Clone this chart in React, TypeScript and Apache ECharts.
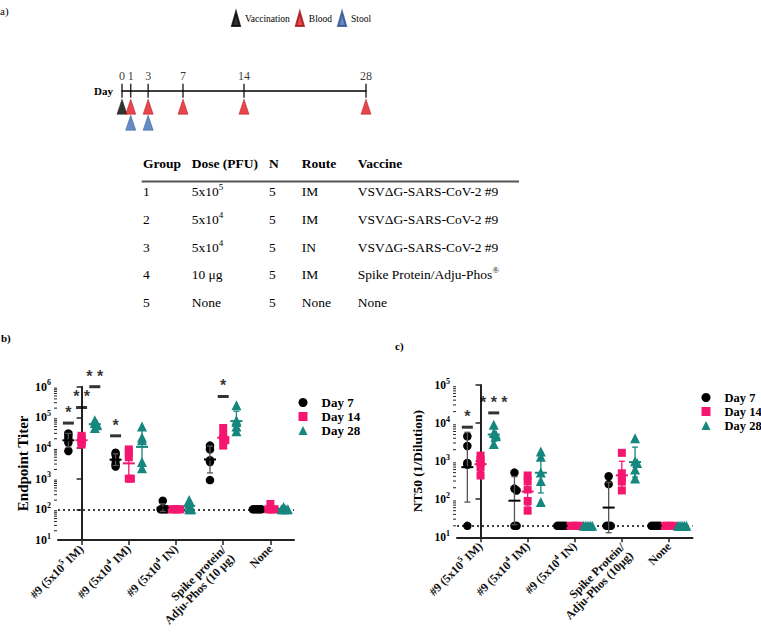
import React, { useEffect, useRef } from 'react';
import * as echarts from 'echarts';

const SERIF = '"Liberation Serif", "Times New Roman", serif';
const SANS = '"Liberation Sans", Arial, sans-serif';
const PINK = '#F5166F';
const TEAL = '#16877F';

// ---------- Panel a : schedule ----------
const timelineDays = [0, 1, 3, 7, 14, 28];
const vaccinationDays = [0];
const bloodDays = [1, 3, 7, 14, 28];
const stoolDays = [1, 3];
const scheduleLegend = ['Vaccination', 'Blood', 'Stool'];

const tableHeader = ['Group', 'Dose (PFU)', 'N', 'Route', 'Vaccine'];
const tableGroup = ['1', '2', '3', '4', '5'];
const tableDose = ['5x10{sup|5}', '5x10{sup|4}', '5x10{sup|4}', '10 μg', 'None'];
const tableN = ['5', '5', '5', '5', '5'];
const tableRoute = ['IM', 'IM', 'IN', 'IM', 'None'];
const tableVaccine = [
  'VSVΔG-SARS-CoV-2 #9',
  'VSVΔG-SARS-CoV-2 #9',
  'VSVΔG-SARS-CoV-2 #9',
  'Spike Protein/Adju-Phos{sup|®}',
  'None',
];

// ---------- shared ----------
const dayNames = ['Day 7', 'Day 14', 'Day 28'];

// ---------- Panel b : Endpoint titer ----------
const groupsB = [
  '#9 (5x10{sup|5} IM)',
  '#9 (5x10{sup|4} IM)',
  '#9 (5x10{sup|4} IN)',
  '{pad|Spike protein/}\nAdju-Phos (10 μg)',
  'None',
];
const titerDay7 = [
  [30000, 25000, 20000, 15000, 8000],
  [7000, 6000, 4000, 3000, 2500],
  [190, 100, 100, 100, 100],
  [12000, 9000, 4000, 3500, 900],
  [100, 100, 100, 100, 100],
];
const titerDay14 = [
  [25000, 21000, 18000, 15000, 13000],
  [9000, 7000, 5000, 1000, 1000],
  [100, 100, 100, 100, 100],
  [45000, 25000, 20000, 18000, 12000],
  [150, 100, 100, 100, 100],
];
const titerDay28 = [
  [80000, 65000, 60000, 55000, 45000],
  [50000, 22000, 18000, 3500, 2200],
  [200, 150, 120, 100, 100],
  [250000, 80000, 70000, 50000, 35000],
  [120, 100, 100, 100, 100],
];
const titerSigGroup = [0, 0, 0, 1, 3];
const titerSigDay = [0, 1, 2, 0, 1];
const titerSigValue = [65000, 210000, 1000000, 25000, 480000];
const titerSigText = ['*', '* *', '* *', '*', '*'];

// ---------- Panel c : NT50 ----------
const groupsC = [
  '#9 (5x10{sup|5} IM)',
  '#9 (5x10{sup|4} IM)',
  '#9 (5x10{sup|4} IN)',
  '{pad|Spike Protein/}\nAdju-Phos (10μg)',
  'None',
];
const nt50Day7 = [
  [4500, 2500, 900, 800, 20],
  [500, 190, 170, 20, 20],
  [20, 20, 20, 20, 20],
  [400, 250, 20, 20, 20],
  [20, 20, 20, 20, 20],
];
const nt50Day14 = [
  [1400, 1100, 900, 700, 420],
  [420, 300, 180, 90, 50],
  [20, 20, 20, 20, 20],
  [1650, 480, 355, 290, 170],
  [20, 20, 20, 20, 20],
];
const nt50Day28 = [
  [9000, 5500, 5000, 4500, 2800],
  [1800, 1300, 500, 300, 85],
  [20, 20, 20, 20, 20],
  [4000, 1000, 900, 600, 350],
  [20, 20, 20, 20, 20],
];
const nt50SigGroup = [0, 0];
const nt50SigDay = [0, 2];
const nt50SigValue = [7800, 18500];
const nt50SigText = ['*', '* * *'];

// ---------- styling helpers ----------
const dayColors = ['#000000', PINK, TEAL];
const errColors = ['#555555', PINK, TEAL];
const daySymbols = ['circle', 'rect', 'triangle'];
const daySizes: any[] = [8.5, 8, [10, 10]];
const dayOffsets = [-0.28, 0, 0.28];

function swarm(vals: number[]): number[] {
  return vals.map((v, i) => {
    let k = 0;
    for (let j = 0; j < i; j++) {
      if (Math.abs(Math.log10(v) - Math.log10(vals[j])) < 0.05) k++;
    }
    return k === 0 ? 0 : (k % 2 ? 1 : -1) * Math.ceil(k / 2) * 0.045;
  });
}

function geoStats(vals: number[]): number[] {
  const logs = vals.map((v) => Math.log10(v));
  const m = logs.reduce((a, b) => a + b, 0) / logs.length;
  const sd = Math.sqrt(logs.reduce((a, b) => a + (b - m) * (b - m), 0) / (logs.length - 1));
  return [Math.pow(10, m), Math.pow(10, m - sd), Math.pow(10, m + sd)];
}

function minorTickValues(minExp: number, maxExp: number): number[][] {
  const out: number[][] = [];
  for (let e = minExp; e < maxExp; e++) {
    for (let m = 2; m <= 9; m++) out.push([-0.5, m * Math.pow(10, e)]);
  }
  return out;
}

function panelSeries(
  days: number[][][],
  sigGroup: number[],
  sigDay: number[],
  sigValue: number[],
  sigText: string[],
  xIdx: number,
  yIdx: number,
  limit: number,
  maxExp: number,
  tag: string
) {
  const series: any[] = [];
  series.push({
    type: 'custom',
    name: 'minor ' + tag,
    xAxisIndex: xIdx,
    yAxisIndex: yIdx,
    clip: false,
    silent: true,
    z: 6,
    data: minorTickValues(1, maxExp),
    renderItem: (_p: any, api: any) => {
      const p = api.coord([api.value(0), api.value(1)]);
      return {
        type: 'line',
        shape: { x1: p[0] - 4, y1: p[1], x2: p[0] - 1, y2: p[1] },
        style: { stroke: '#222', lineWidth: 1 },
      };
    },
  });
  days.forEach((dayData, d) => {
    const pts: number[][] = [];
    dayData.forEach((vals, g) => {
      const off = swarm(vals);
      vals.forEach((v, i) => pts.push([g + dayOffsets[d] + off[i], v]));
    });
    const s: any = {
      type: 'scatter',
      name: dayNames[d],
      xAxisIndex: xIdx,
      yAxisIndex: yIdx,
      symbol: daySymbols[d],
      symbolSize: daySizes[d],
      itemStyle: { color: dayColors[d], opacity: 1 },
      data: pts,
      z: 3,
    };
    if (d === 0) {
      s.markLine = {
        silent: true,
        symbol: ['none', 'none'],
        label: { show: false },
        lineStyle: { color: '#000', width: 1.5, type: [2, 3] },
        data: [{ yAxis: limit }],
        z: 1,
      };
    }
    series.push(s);
    const eb = dayData.map((vals, g) => {
      const [m, lo, hi] = geoStats(vals);
      return [g + dayOffsets[d], m, lo, hi];
    });
    series.push({
      type: 'custom',
      name: dayNames[d] + ' mean ' + tag,
      xAxisIndex: xIdx,
      yAxisIndex: yIdx,
      clip: false,
      silent: true,
      z: 4,
      encode: { x: 0, y: 1 },
      data: eb,
      renderItem: (_p: any, api: any) => {
        const x = api.value(0);
        const pm = api.coord([x, api.value(1)]);
        const pl = api.coord([x, api.value(2)]);
        const ph = api.coord([x, api.value(3)]);
        const cx = pm[0];
        const c = errColors[d];
        const children: any[] = [];
        if (pl[1] - ph[1] > 1) {
          children.push({ type: 'line', shape: { x1: cx, y1: ph[1], x2: cx, y2: pl[1] }, style: { stroke: c, lineWidth: 1.3 } });
          children.push({ type: 'line', shape: { x1: cx - 3, y1: ph[1], x2: cx + 3, y2: ph[1] }, style: { stroke: c, lineWidth: 1.3 } });
          children.push({ type: 'line', shape: { x1: cx - 3, y1: pl[1], x2: cx + 3, y2: pl[1] }, style: { stroke: c, lineWidth: 1.3 } });
        }
        children.push({
          type: 'line',
          shape: { x1: cx - 6, y1: pm[1], x2: cx + 6, y2: pm[1] },
          style: { stroke: dayColors[d], lineWidth: 2 },
        });
        return { type: 'group', children };
      },
    });
  });
  series.push({
    type: 'scatter',
    name: 'significance ' + tag,
    xAxisIndex: xIdx,
    yAxisIndex: yIdx,
    symbol: 'rect',
    symbolSize: [11, 3],
    itemStyle: { color: '#000' },
    z: 5,
    data: sigGroup.map((g, i) => [g + dayOffsets[sigDay[i]], sigValue[i], sigText[i]]),
    label: {
      show: true,
      position: 'top',
      distance: 1,
      formatter: (p: any) => p.data[2],
      fontFamily: SANS,
      fontWeight: 'bold',
      fontSize: 16,
      color: '#000',
    },
  });
  return series;
}

const supRich = (size: number) => ({
  sup: { fontSize: size, fontWeight: 'bold', fontFamily: SERIF, color: '#000', padding: [0, 0, size, 0] },
  pad: { fontSize: 12, fontWeight: 'bold', fontFamily: SERIF, color: '#111', padding: [14, 0, 0, 0] },
});

function catAxis(grid: number, data: string[]) {
  return {
    gridIndex: grid,
    type: 'category',
    data,
    axisLine: { show: true, lineStyle: { color: '#222', width: 2 } },
    axisTick: { show: true, alignWithLabel: true, length: 5, lineStyle: { color: '#222', width: 1.5 } },
    axisLabel: {
      interval: 0,
      rotate: 45,
      margin: 7,
      fontFamily: SERIF,
      fontWeight: 'bold',
      fontSize: 12,
      color: '#111',
      rich: supRich(8),
    },
    splitLine: { show: false },
  };
}

function logAxis(grid: number, max: number, name: string, nameSize: number, nameGap: number, labelSize: number) {
  return {
    gridIndex: grid,
    type: 'log',
    logBase: 10,
    min: 10,
    max,
    name,
    nameLocation: 'middle',
    nameGap,
    nameTextStyle: { fontFamily: SERIF, fontWeight: 'bold', fontSize: nameSize, color: '#000' },
    axisLine: { show: true, lineStyle: { color: '#222', width: 2 } },
    axisTick: { show: true, length: 5, lineStyle: { color: '#222', width: 1.5 } },
    axisLabel: {
      margin: 7,
      fontFamily: SERIF,
      fontWeight: 'bold',
      fontSize: labelSize,
      color: '#000',
      formatter: (v: number) => '10{sup|' + Math.round(Math.log10(v)) + '}',
      rich: supRich(8),
    },
    splitLine: { show: false },
  };
}

function txt(text: string, x: number, y: number, extra: any = {}) {
  return {
    type: 'text',
    x,
    y,
    silent: true,
    style: {
      text,
      fill: '#000',
      fontFamily: SERIF,
      fontSize: 13.5,
      verticalAlign: 'middle',
      rich: { sup: { fontSize: 9, fontFamily: SERIF, fill: '#000', padding: [0, 0, 9, 0] } },
      ...extra,
    },
  };
}

function buildOption() {
  const colX = [143, 191.7, 269, 301.7, 357.7];
  const rowY0 = 191.5;
  const rowStep = 27.8;
  const graphics: any[] = [];
  graphics.push(txt('a)', 0, 11, { fontSize: 11 }));
  graphics.push(txt('b)', 1, 338, { fontSize: 11, fontWeight: 'bold' }));
  graphics.push(txt('c)', 395, 346, { fontSize: 11, fontWeight: 'bold' }));
  graphics.push(txt('Day', 113, 91, { fontSize: 11, fontWeight: 'bold', align: 'right' }));
  tableHeader.forEach((h, i) => graphics.push(txt(h, colX[i], 163.3, { fontWeight: 'bold' })));
  graphics.push({
    type: 'line',
    silent: true,
    shape: { x1: 141.7, y1: 181.5, x2: 519, y2: 181.5 },
    style: { stroke: '#555', lineWidth: 2 },
  });
  const cols = [tableGroup, tableDose, tableN, tableRoute, tableVaccine];
  cols.forEach((col, ci) =>
    col.forEach((t, ri) => graphics.push(txt(t, colX[ci], rowY0 + ri * rowStep)))
  );

  const series: any[] = [
    {
      type: 'scatter',
      name: 'day ticks',
      xAxisIndex: 0,
      yAxisIndex: 0,
      symbol: 'rect',
      symbolSize: [1.5, 14],
      itemStyle: { color: '#000' },
      data: timelineDays.map((d) => [d, 0]),
      label: {
        show: true,
        position: 'top',
        distance: 2,
        formatter: (p: any) => String(p.value[0]),
        fontFamily: SERIF,
        fontSize: 12,
        color: '#000',
      },
      z: 2,
    },
    {
      type: 'scatter',
      name: 'Vaccination',
      xAxisIndex: 0,
      yAxisIndex: 0,
      symbol: 'triangle',
      symbolSize: [10, 15],
      itemStyle: { color: '#000', borderColor: '#000', borderWidth: 0.5 },
      data: vaccinationDays.map((d) => [d, 1]),
      z: 3,
    },
    {
      type: 'scatter',
      name: 'Blood',
      xAxisIndex: 0,
      yAxisIndex: 0,
      symbol: 'triangle',
      symbolSize: [10, 15],
      itemStyle: { color: '#E5161D', borderColor: '#9E1014', borderWidth: 0.6 },
      data: bloodDays.map((d) => [d, 1]),
      z: 3,
    },
    {
      type: 'scatter',
      name: 'Stool',
      xAxisIndex: 0,
      yAxisIndex: 0,
      symbol: 'triangle',
      symbolSize: [10, 15],
      itemStyle: { color: '#3F6EB8', borderColor: '#2A4C85', borderWidth: 0.6 },
      data: stoolDays.map((d) => [d, 2]),
      z: 3,
    },
    ...panelSeries([titerDay7, titerDay14, titerDay28], titerSigGroup, titerSigDay, titerSigValue, titerSigText, 2, 1, 100, 6, 'b'),
    ...panelSeries([nt50Day7, nt50Day14, nt50Day28], nt50SigGroup, nt50SigDay, nt50SigValue, nt50SigText, 4, 2, 20, 5, 'c'),
  ];

  const legendText = (size: number) => ({
    fontFamily: SERIF,
    fontWeight: 'bold',
    fontSize: size,
    color: '#000',
    padding: [0, 0, 0, 9],
  });

  return {
    animation: false,
    backgroundColor: '#ffffff',
    textStyle: { fontFamily: SERIF },
    grid: [
      { left: 122, top: 90.7, width: 244, height: 32 },
      { left: 58, top: 386.7, width: 236, height: 153.3 },
      { left: 457, top: 385, width: 235.5, height: 152.3 },
    ],
    xAxis: [
      {
        gridIndex: 0,
        type: 'value',
        min: 0,
        max: 28,
        position: 'top',
        axisLine: { show: true, onZero: false, lineStyle: { color: '#000', width: 1.5 } },
        axisTick: { show: false },
        axisLabel: { show: false },
        splitLine: { show: false },
      },
      catAxis(1, groupsB),
      { gridIndex: 1, type: 'value', min: -0.5, max: 4.5, show: false },
      catAxis(2, groupsC),
      { gridIndex: 2, type: 'value', min: -0.5, max: 4.5, show: false },
    ],
    yAxis: [
      { gridIndex: 0, type: 'value', min: 0, max: 2, inverse: true, show: false },
      logAxis(1, 1e6, 'Endpoint Titer', 15, 28, 12),
      logAxis(2, 1e5, 'NT50 (1/Dilution)', 13.5, 33, 11.5),
    ],
    legend: [
      {
        data: scheduleLegend,
        left: 231,
        top: 11,
        padding: 0,
        itemWidth: 8,
        itemHeight: 14,
        itemGap: 5,
        symbolKeepAspect: false,
        selectedMode: false,
        textStyle: { fontFamily: SERIF, fontSize: 9.5, color: '#000' },
      },
      {
        data: dayNames,
        orient: 'vertical',
        left: 298.5,
        top: 396,
        padding: 0,
        itemWidth: 9,
        itemHeight: 9,
        itemGap: 1,
        selectedMode: false,
        textStyle: legendText(13),
      },
      {
        data: dayNames,
        orient: 'vertical',
        left: 701.5,
        top: 391,
        padding: 0,
        itemWidth: 9,
        itemHeight: 9,
        itemGap: 1,
        selectedMode: false,
        textStyle: legendText(12.5),
      },
    ],
    graphic: graphics,
    series,
  };
}

export default function App() {
  const ref = useRef<HTMLDivElement>(null);
  useEffect(() => {
    const chart = echarts.init(ref.current as HTMLDivElement, null, { renderer: 'svg' });
    chart.setOption(buildOption() as any);
    return () => chart.dispose();
  }, []);
  return (
    <div
      ref={ref}
      style={{ position: 'absolute', left: 0, top: 0, width: 761, height: 643, background: '#fff' }}
    />
  );
}
